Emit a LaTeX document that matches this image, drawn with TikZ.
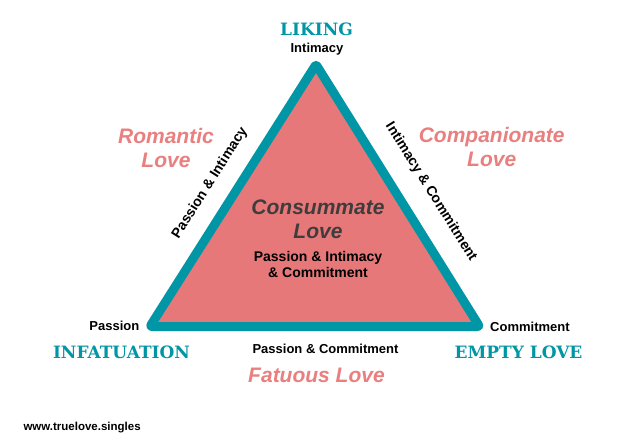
\documentclass[tikz,border=0pt]{standalone}
\usepackage{fontspec}
\setmainfont{Liberation Sans}
\newfontfamily\slabfont{DejaVu Serif}
\usepackage{xcolor}
\usepackage{tikz}
\definecolor{lvteal}{RGB}{0,150,166}
\definecolor{lvpink}{RGB}{230,120,122}
\definecolor{lvrose}{RGB}{234,127,127}
\definecolor{lvgray}{RGB}{64,60,60}
\tikzset{
  fx/.style={x=1pt, y=-1pt},
  s tri/.style={draw=lvteal, fill=lvpink, line width=9pt, line join=round, rounded corners=2pt},
  s vert/.style={font=\fontsize{13}{15}\selectfont\bfseries, inner sep=0pt},
  s kind/.style={font=\slabfont\fontsize{17}{20}\selectfont\bfseries, text=lvteal, inner sep=0pt},
  s love/.style={font=\fontsize{21}{23.5}\selectfont\bfseries\itshape, text=lvrose, align=center, inner sep=0pt},
  s core/.style={s love, text=lvgray, font=\fontsize{21}{24.3}\selectfont\bfseries\itshape},
  s mix/.style={font=\fontsize{14}{15.5}\selectfont\bfseries, align=center, inner sep=0pt},
  s side/.style={font=\fontsize{14}{16}\selectfont\bfseries, inner sep=0pt},
  s web/.style={font=\fontsize{11.5}{13}\selectfont\bfseries, inner sep=0pt},
}
\begin{document}
\begin{tikzpicture}[fx]
\fill[white] (0,0) rectangle (632,439);
\useasboundingbox (0,0) rectangle (632,439);
% triangle
\coordinate (vI) at (316,64.5);
\coordinate (vP) at (150,326.5);
\coordinate (vC) at (479.5,326.5);
\draw[s tri] (vI) -- (vC) -- (vP) -- cycle;
% corners
\node[s kind, anchor=base] (liking) at (316.5,35) {LIKING};
\node[s vert, anchor=base] (intim) at (317,52.7) {Intimacy};
\node[s vert, anchor=base east] (pass) at (139.5,330.5) {Passion};
\node[s vert, anchor=base west] (commit) at (490,331) {Commitment};
\node[s kind, anchor=base] (infat) at (121.5,358.3) {INFATUATION};
\node[s kind, anchor=base] (empty) at (518.5,358.3) {EMPTY LOVE};
% sides
\node[s side, rotate=57.6] (pi) at (210,183) {Passion \& Intimacy};
\node[s side, rotate=-58] (ic) at (431,192) {Intimacy \& Commitment};
\node[s vert, anchor=base] (pc) at (325.5,353.3) {Passion \& Commitment};
% kinds of love (base = last line)
\node[s love, anchor=base] (romantic) at (166,167) {Romantic\\Love};
\node[s love, anchor=base] (compan) at (491.7,166) {Companionate\\Love};
\node[s love, anchor=base] (fatuous) at (316.5,382.7) {Fatuous Love};
\node[s core, anchor=base] (consum) at (318,238.3) {Consummate\\Love};
\node[s mix, anchor=base] (pic) at (318,277) {Passion \& Intimacy\\\& Commitment};
\node[s web, anchor=base west] (web) at (23.3,430) {www.truelove.singles};
\end{tikzpicture}
\end{document}
